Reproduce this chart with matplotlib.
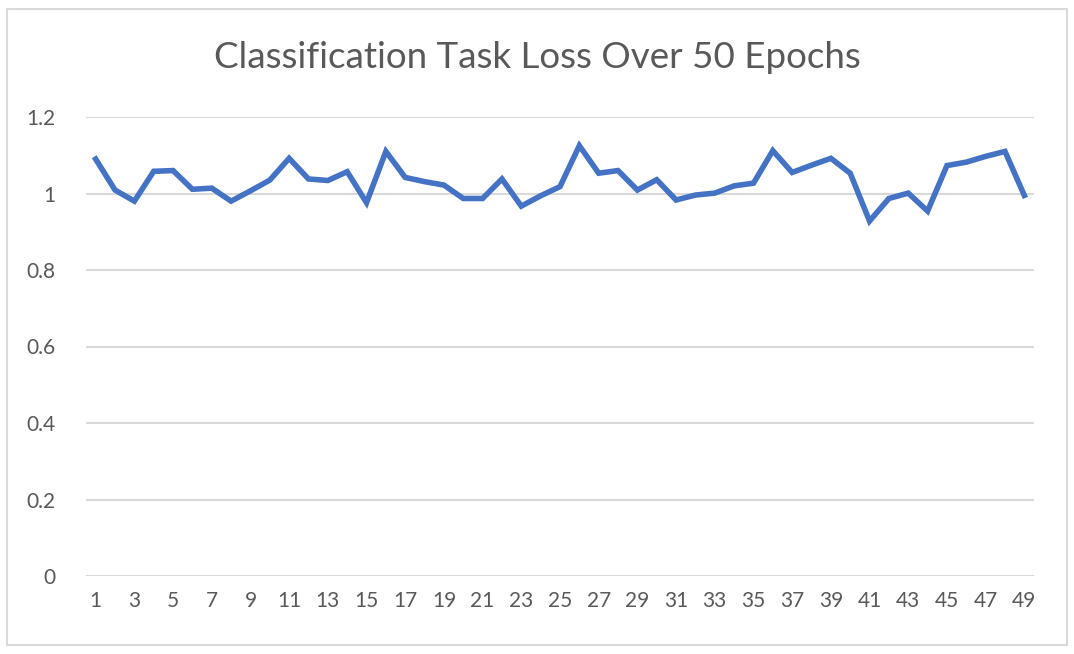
import matplotlib.pyplot as plt
from matplotlib.patches import Rectangle

# epoch numbers and loss values
epochs = list(range(1, 50))
loss = [1.09, 1.009, 0.98, 1.058, 1.06, 1.011, 1.014, 0.98, 1.007, 1.035,
        1.092, 1.038, 1.034, 1.057, 0.976, 1.11, 1.042, 1.031, 1.022, 0.987,
        0.987, 1.038, 0.967, 0.994, 1.018, 1.125, 1.053, 1.06, 1.009, 1.036,
        0.983, 0.996, 1.001, 1.02, 1.027, 1.112, 1.055, 1.074, 1.092, 1.053,
        0.928, 0.987, 1.001, 0.954, 1.073, 1.082, 1.097, 1.11, 0.995]
x_ticks = list(range(1, 50, 2))
y_ticks = [0, 0.2, 0.4, 0.6, 0.8, 1, 1.2]
y_tick_labels = ["0", "0.2", "0.4", "0.6", "0.8", "1", "1.2"]

plt.rcParams['font.family'] = ['Lato', 'DejaVu Sans']
text_color = '#595959'

fig = plt.figure(figsize=(10.74, 6.54), dpi=100)
ax = fig.add_axes([86 / 1074, 1 - 576 / 654, (1034 - 86) / 1074, (576 - 117) / 654])

ax.plot(epochs, loss, color='#4472C4', linewidth=4, solid_joinstyle='miter')

ax.set_xlim(0.5, 49.5)
ax.set_ylim(0, 1.2)
ax.set_xticks(x_ticks)
ax.set_xticklabels([str(t) for t in x_ticks])
ax.set_yticks(y_ticks)
ax.set_yticklabels(y_tick_labels)
ax.tick_params(axis='both', length=0, labelsize=15, colors=text_color)
ax.tick_params(axis='x', pad=11)
ax.tick_params(axis='y', pad=22)

# gridlines only, no spines
ax.grid(axis='y', color='#D9D9D9', linewidth=1.5)
ax.set_axisbelow(True)
for s in ax.spines.values():
    s.set_visible(False)

fig.text(0.5, 1 - 58 / 654, "Classification Task Loss Over 50 Epochs",
         ha='center', va='center', fontsize=26.5, color=text_color)

# outer chart border
fig.patches.append(Rectangle((7 / 1074, 1 - 645 / 654), 1060 / 1074, 636 / 654,
                             transform=fig.transFigure, fill=False,
                             edgecolor='#D9D9D9', linewidth=1.5))

fig.savefig("out.png", dpi=100)
